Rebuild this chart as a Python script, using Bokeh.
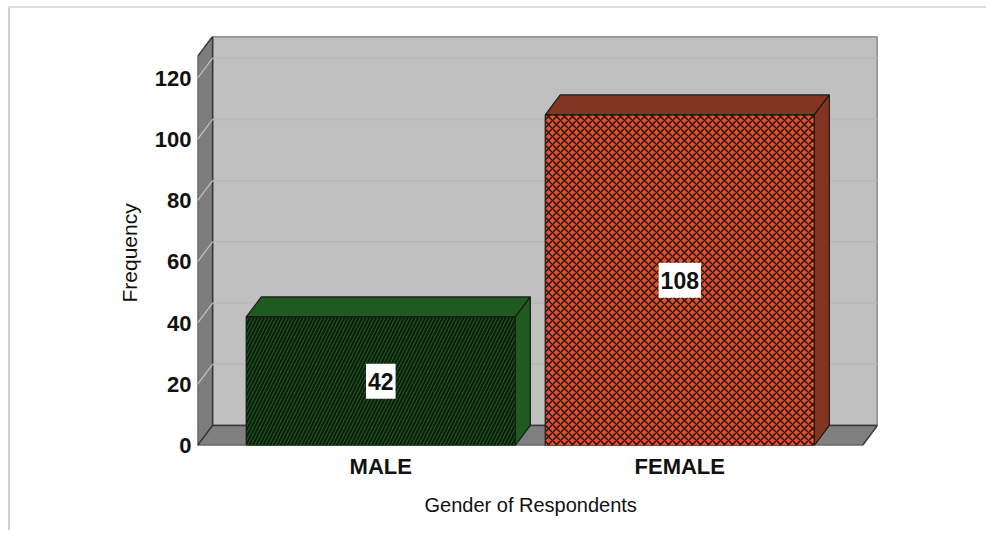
from bokeh.plotting import figure
from bokeh.embed import file_html
from bokeh.resources import INLINE
from bokeh.models import Range1d, Title
from bokeh.core.properties import value

categories = ["MALE", "FEMALE"]
frequencies = [42, 108]
y_ticks = [0, 20, 40, 60, 80, 100, 120]

# Layout of the pseudo-3D box, in data units
BAR_W = 0.9
DX = 0.0503
DY = 6.54
XL, XR = -0.613, 1.611
TOP = 127.1
FONT = "Liberation Sans"
EDGE = "#3a3a3a"

p = figure(width=986, height=530, output_backend="svg", toolbar_location=None,
           x_range=Range1d(XL, XR + DX), y_range=Range1d(0, TOP + DY),
           min_border_left=197, min_border_right=109, min_border_top=36, min_border_bottom=85)
p.outline_line_color = None
p.background_fill_color = None
p.border_fill_color = None
p.grid.visible = False
p.styles = {"background": "linear-gradient(#dcdcdc,#dcdcdc) 8px 6px/1000px 2px no-repeat, "
                          "linear-gradient(#d0d0d0,#d0d0d0) 8px 6px/2px 600px no-repeat"}

# walls and floor
p.patch([XL + DX, XR + DX, XR + DX, XL + DX], [DY, DY, TOP + DY, TOP + DY],
        fill_color="#c0c0c0", line_color=EDGE, line_width=1.5)
p.patch([XL, XL + DX, XL + DX, XL], [0, DY, TOP + DY, TOP],
        fill_color="#7d7d7d", line_color=EDGE, line_width=1.5)
p.patch([XL, XR, XR + DX, XL + DX], [0, 0, DY, DY],
        fill_color="#808080", line_color=EDGE, line_width=1.5)

# grid lines
ticks = y_ticks[1:]
p.segment([XL + DX] * len(ticks), [t + DY for t in ticks], [XR + DX] * len(ticks), [t + DY for t in ticks],
          line_color="#b8b8b8", line_width=1.5)
p.segment([XL] * len(ticks), ticks, [XL + DX] * len(ticks), [t + DY for t in ticks],
          line_color="#c4c4c4", line_width=1.2)

# bars
faces = [("#1d5c1c", "#0c1f0c", "right_diagonal_line", 7, 2.2), ("#d9532f", "#2f1208", "diagonal_cross", 8, 1.5)]
sides = ["#1f5a1e", "#843522"]
for i, (v, (fc, hc, hp, hs, hw), sc) in enumerate(zip(frequencies, faces, sides)):
    l, r = i - BAR_W / 2, i + BAR_W / 2
    p.patch([l, r, r + DX, l + DX], [v, v, v + DY, v + DY], fill_color=sc, line_color="#1a1a1a", line_width=1.2)
    p.patch([r, r + DX, r + DX, r], [0, DY, v + DY, v], fill_color=sc, line_color="#1a1a1a", line_width=1.2)
    p.vbar(x=[i], top=[v], bottom=[0], width=BAR_W, fill_color=fc, line_color="#1a1a1a", line_width=1.2,
           hatch_pattern=hp, hatch_color=hc, hatch_scale=hs, hatch_weight=hw)

# value labels
p.text(x=[0, 1], y=[v / 2 for v in frequencies], text=[str(v) for v in frequencies],
       text_align="center", text_baseline="middle", text_font=value(FONT), text_font_style="bold",
       text_font_size="23px", text_color="#111111", background_fill_color="white", padding=(2, 9))

# axes
p.yaxis.ticker = y_ticks
p.xaxis.ticker = [0, 1]
p.xaxis.major_label_overrides = {i: c for i, c in enumerate(categories)}
for ax in (p.xaxis[0], p.yaxis[0]):
    ax.axis_line_color = None
    ax.major_tick_line_color = None
    ax.minor_tick_line_color = None
    ax.major_tick_out = 0
    ax.major_tick_in = 0
    ax.major_label_text_font = FONT
    ax.major_label_text_font_style = "bold"
    ax.major_label_text_color = "#111111"
p.yaxis.major_label_text_font_size = "22px"
p.xaxis.major_label_text_font_size = "22px"
p.yaxis.major_label_standoff = 6
p.xaxis.major_label_standoff = 8

# axis titles, placed off-centre as in the reference
p.add_layout(Title(text="Gender of Respondents", align="left", offset=227, standoff=21,
                   text_font=FONT, text_font_style="normal", text_font_size="20px", text_color="#111111"), "below")
p.add_layout(Title(text="Frequency", align="left", offset=143, standoff=22,
                   text_font=FONT, text_font_style="normal", text_font_size="21px", text_color="#111111"), "left")

open("out.html", "w").write(file_html(p, INLINE))
